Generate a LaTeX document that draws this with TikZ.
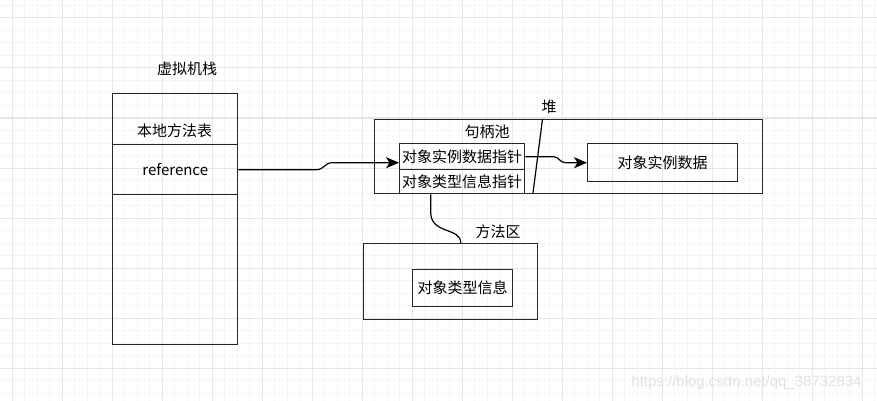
\documentclass[tikz,border=0pt]{standalone}
\usepackage{xcolor}
\usepackage{fontspec}
\newfontfamily\cjk{Noto Sans CJK SC}
\newfontfamily\wmfont{Liberation Sans}
\usepackage{tikz}
\usetikzlibrary{arrows.meta,positioning}

\tikzset{
  box/.style={draw=boxline,line width=1.4pt,inner sep=0pt,anchor=north west},
  txt/.style={font=\cjk\fontsize{15}{18}\selectfont,inner sep=0pt},
  link/.style={draw=black,line width=1.2pt},
  arr/.style={link,-{Stealth[length=13pt,width=11pt,inset=3.5pt]}}
}

\begin{document}
\begin{tikzpicture}[x=1pt,y=-1pt]
\definecolor{boxline}{HTML}{262626}
\definecolor{majorgrid}{HTML}{E6E6E6}
\definecolor{minorgrid}{HTML}{F5F5F5}
\definecolor{wmark}{HTML}{E2E2E2}

\useasboundingbox[fill=white] (0,0) rectangle (877,401);

% grid
\foreach \i in {0,...,69} \draw[minorgrid,line width=1pt] (12+12.5*\i,0) -- (12+12.5*\i,401);
\foreach \i in {-1,...,30} \draw[minorgrid,line width=1pt] (0,18+12.5*\i) -- (877,18+12.5*\i);
\foreach \i in {0,...,17} \draw[majorgrid,line width=1pt] (12+50*\i,0) -- (12+50*\i,401);
\foreach \i in {0,...,7} \draw[majorgrid,line width=1pt] (0,18+50*\i) -- (877,18+50*\i);

% stack
\node[txt] (stacklbl) at (187,69) {虚拟机栈};
\node[box,minimum width=125,minimum height=51] (natv) at (112,93) {};
\node[txt] (natvlbl) at (174.5,131) {本地方法表};
\node[box,minimum width=125,minimum height=50,txt] (ref) at (112,144) {reference};
\node[box,minimum width=125,minimum height=150] (rest) at (112,194) {};

% heap
\node[box,minimum width=388,minimum height=74] (heap) at (374,119) {};
\node[txt] (heaplbl) at (549,107) {堆};
\coordinate (cuttop) at (542.5,119);
\coordinate (cutbot) at (533,193);
\draw[link] (cuttop) -- (cutbot);
\node[txt] (poollbl) at (487,132) {句柄池};
\node[box,minimum width=125,minimum height=26,txt] (ptr1) at (399,143) {对象实例数据指针};
\node[box,minimum width=125,minimum height=24,txt] (ptr2) at (399,169) {对象类型信息指针};
\node[box,minimum width=150,minimum height=38,txt] (data) at (587,143) {对象实例数据};

% method area
\node[box,minimum width=174,minimum height=76] (method) at (363,243) {};
\node[txt] (methodlbl) at (498,232) {方法区};
\node[box,minimum width=100,minimum height=37,txt] (type) at (412,269) {对象类型信息};

% connectors
\draw[arr] (ref.east) -- ++(78,0) .. controls +(8,0) and +(-8,0) .. ++(16,-7) -- ([yshift=-6pt]ptr1.west);
\draw[arr] (ptr1.east) -- ++(28,0) .. controls +(6,0) and +(-6,0) .. ++(12,6) -- (data.west);
\draw[link] ([xshift=-31.5pt]ptr2.south) -- ++(0,18) .. controls +(0,22) and +(0,-16) .. ([xshift=10pt]method.north);

% watermark
\node[font=\wmfont\fontsize{15}{18}\selectfont,text=wmark,inner sep=0pt] (wm) at (746.5,383) {https://blog.csdn.net/qq\_38732834};
\end{tikzpicture}
\end{document}
